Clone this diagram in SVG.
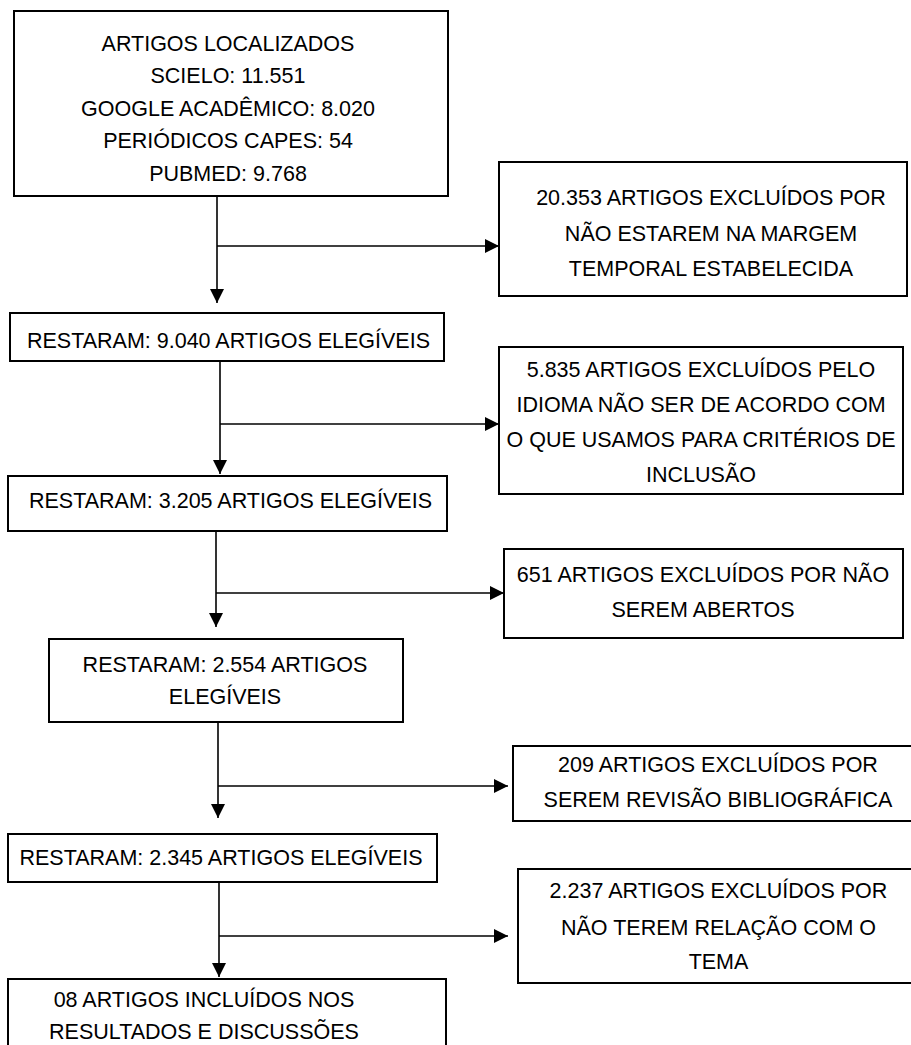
<svg xmlns="http://www.w3.org/2000/svg" width="911" height="1045" viewBox="0 0 911 1045">
<style>
.box{fill:#fff;stroke:#000;stroke-width:2}
.t{font-family:"Liberation Sans",Arial,sans-serif;font-size:21.5px;fill:#000;text-anchor:middle}
.c{fill:none;stroke:#000;stroke-width:1.6}
</style>
<defs>
<marker id="ah" markerUnits="userSpaceOnUse" markerWidth="14" markerHeight="14" viewBox="0 0 14 14" refX="14" refY="7" orient="auto">
<path d="M0,0 L14,7 L0,14 z" fill="#000"/>
</marker>
</defs>
<rect width="911" height="1045" fill="#fff"/>
<g id="connectors">
<line class="c" x1="217" y1="196" x2="217" y2="303" marker-end="url(#ah)"/>
<line class="c" x1="217" y1="246" x2="499" y2="246" marker-end="url(#ah)"/>
<line class="c" x1="220" y1="361" x2="220" y2="474" marker-end="url(#ah)"/>
<line class="c" x1="220" y1="424" x2="499" y2="424" marker-end="url(#ah)"/>
<line class="c" x1="216" y1="531" x2="216" y2="627" marker-end="url(#ah)"/>
<line class="c" x1="216" y1="593" x2="504" y2="593" marker-end="url(#ah)"/>
<line class="c" x1="218" y1="722" x2="218" y2="818" marker-end="url(#ah)"/>
<line class="c" x1="218" y1="786" x2="508" y2="786" marker-end="url(#ah)"/>
<line class="c" x1="219" y1="880" x2="219" y2="977" marker-end="url(#ah)"/>
<line class="c" x1="219" y1="936" x2="508" y2="936" marker-end="url(#ah)"/>
</g>
<g id="n1">
<rect class="box" x="14" y="11" width="434" height="185"/>
<text class="t" x="228" y="51">ARTIGOS LOCALIZADOS</text>
<text class="t" x="228" y="83">SCIELO: 11.551</text>
<text class="t" x="228" y="116">GOOGLE ACADÊMICO: 8.020</text>
<text class="t" x="228" y="148">PERIÓDICOS CAPES: 54</text>
<text class="t" x="228" y="181">PUBMED: 9.768</text>
</g>
<g id="n2">
<rect class="box" x="499" y="162" width="408" height="134"/>
<text class="t" x="711" y="205">20.353 ARTIGOS EXCLUÍDOS POR</text>
<text class="t" x="711" y="241">NÃO ESTAREM NA MARGEM</text>
<text class="t" x="711" y="276">TEMPORAL ESTABELECIDA</text>
</g>
<g id="n3">
<rect class="box" x="10" y="313" width="434" height="48"/>
<text class="t" x="228.5" y="348">RESTARAM: 9.040 ARTIGOS ELEGÍVEIS</text>
</g>
<g id="n4">
<rect class="box" x="499" y="347" width="404" height="147"/>
<text class="t" x="701" y="377">5.835 ARTIGOS EXCLUÍDOS PELO</text>
<text class="t" x="701" y="412">IDIOMA NÃO SER DE ACORDO COM</text>
<text class="t" x="701" y="447">O QUE USAMOS PARA CRITÉRIOS DE</text>
<text class="t" x="701" y="482">INCLUSÃO</text>
</g>
<g id="n5">
<rect class="box" x="8" y="476" width="439" height="55"/>
<text class="t" x="230.5" y="508">RESTARAM: 3.205 ARTIGOS ELEGÍVEIS</text>
</g>
<g id="n6">
<rect class="box" x="504" y="549" width="399" height="89"/>
<text class="t" x="703" y="582">651 ARTIGOS EXCLUÍDOS POR NÃO</text>
<text class="t" x="703" y="617">SEREM ABERTOS</text>
</g>
<g id="n7">
<rect class="box" x="49" y="639" width="354" height="83"/>
<text class="t" x="225" y="672">RESTARAM: 2.554 ARTIGOS</text>
<text class="t" x="225" y="704">ELEGÍVEIS</text>
</g>
<g id="n8">
<rect class="box" x="513" y="746" width="410" height="75"/>
<text class="t" x="718" y="772">209 ARTIGOS EXCLUÍDOS POR</text>
<text class="t" x="718" y="807">SEREM REVISÃO BIBLIOGRÁFICA</text>
</g>
<g id="n9">
<rect class="box" x="518" y="869" width="410" height="114"/>
<text class="t" x="718.5" y="898">2.237 ARTIGOS EXCLUÍDOS POR</text>
<text class="t" x="718.5" y="935">NÃO TEREM RELAÇÃO COM O</text>
<text class="t" x="718.5" y="969">TEMA</text>
</g>
<g id="n10">
<rect class="box" x="8" y="834" width="429" height="48"/>
<text class="t" x="221" y="865">RESTARAM: 2.345 ARTIGOS ELEGÍVEIS</text>
</g>
<g id="n11">
<rect class="box" x="8" y="979" width="438" height="80"/>
<text class="t" x="204" y="1007">08 ARTIGOS INCLUÍDOS NOS</text>
<text class="t" x="204" y="1039">RESULTADOS E DISCUSSÕES</text>
</g>
</svg>
